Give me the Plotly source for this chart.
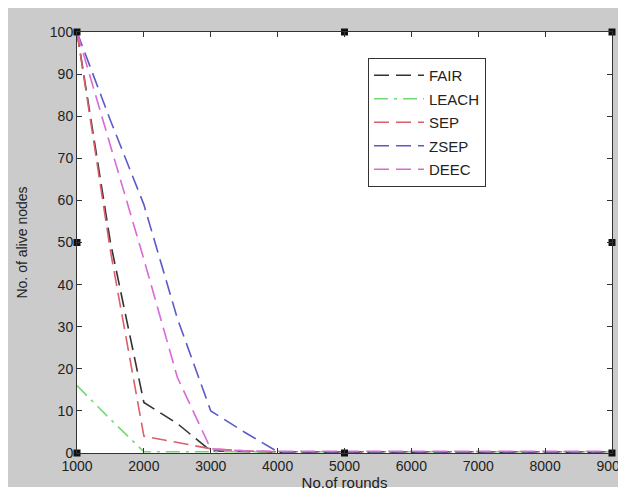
import plotly.graph_objects as go

ROUNDS = [1000, 1500, 2000, 2500, 3000, 3500, 4000, 5000, 6000, 7000, 8000, 9000]
FAIR = [100, 50, 12, 7, 0.5, 0.3, 0.2, 0.2, 0.2, 0.2, 0.2, 0.2]
LEACH = [16, 8, 0.3, 0.3, 0.3, 0.3, 0.3, 0.3, 0.3, 0.3, 0.3, 0.3]
SEP = [100, 48, 4, 2.5, 1, 0.5, 0.3, 0.3, 0.3, 0.3, 0.3, 0.3]
ZSEP = [100, 79, 59, 32, 10, 5, 0.3, 0.3, 0.3, 0.3, 0.3, 0.3]
DEEC = [100, 73, 46, 18, 1, 0.5, 0.4, 0.4, 0.4, 0.4, 0.4, 0.4]

SERIES_NAMES = ["FAIR", "LEACH", "SEP", "ZSEP", "DEEC"]
SERIES_VALUES = [FAIR, LEACH, SEP, ZSEP, DEEC]
SERIES_COLORS = ["#333333", "#74d874", "#d95f6a", "#5a5ac8", "#d86ad8"]
SERIES_DASH = ["15px,7px", "14px,6px,3px,6px", "15px,7px", "15px,7px", "15px,7px"]

HANDLE_X = [1000, 1000, 1000, 5000, 5000, 9000, 9000, 9000]
HANDLE_Y = [0, 50, 100, 0, 100, 0, 50, 100]

X_TICKS = [1000, 2000, 3000, 4000, 5000, 6000, 7000, 8000, 9000]
Y_TICKS = [0, 10, 20, 30, 40, 50, 60, 70, 80, 90, 100]

FONT = "Liberation Sans, Arial, sans-serif"

fig = go.Figure()
for name, vals, col, dash in zip(SERIES_NAMES, SERIES_VALUES, SERIES_COLORS, SERIES_DASH):
    fig.add_trace(go.Scatter(
        x=ROUNDS, y=vals, mode="lines", name=name,
        line=dict(color=col, width=1.6, dash=dash),
        legendgroup=name,
    ))

fig.add_trace(go.Scatter(
    x=HANDLE_X, y=HANDLE_Y, mode="markers", showlegend=False,
    marker=dict(symbol="square", size=7, color="#111111"),
    cliponaxis=False, hoverinfo="skip",
))

# page has an 8px body margin; figure sits at (8, 8)
W, H = 618, 489
L, R, T, B = 69, 14, 24, 44
pw, ph = W - L - R, H - T - B


def px2x(px):
    return (px - L) / pw


def px2y(py):
    return (H - B - py) / ph


shapes = [
    dict(type="rect", xref="paper", yref="paper", x0=px2x(0), x1=px2x(W), y0=px2y(H + 5), y1=px2y(479),
         fillcolor="white", line=dict(width=0), layer="below"),
]

axis_common = dict(
    showgrid=False, zeroline=False, showline=True, linecolor="#333333", linewidth=1,
    mirror="ticks", ticks="inside", ticklen=5, tickcolor="#333333",
    tickfont=dict(family=FONT, size=14, color="#222222"),
    automargin=False, ticklabeloverflow="allow",
)

fig.update_layout(
    width=W, height=H,
    margin=dict(l=L, r=R, t=T, b=B, autoexpand=False),
    paper_bgcolor="#cbcbcb",
    plot_bgcolor="white",
    shapes=shapes,
    showlegend=True,
    legend=dict(
        x=px2x(360), y=px2y(50), xanchor="left", yanchor="top",
        bgcolor="white", bordercolor="#333333", borderwidth=1,
        font=dict(family=FONT, size=15, color="#222222"),
        tracegroupgap=1, traceorder="grouped", itemwidth=50,
    ),
    xaxis=dict(range=[1000, 9000], tickvals=X_TICKS, ticktext=[str(v) for v in X_TICKS],
               title=dict(text="No.of rounds", standoff=4,
                          font=dict(family=FONT, size=15, color="#222222")),
               **axis_common),
    yaxis=dict(range=[0, 100], tickvals=Y_TICKS, ticktext=[str(v) for v in Y_TICKS],
               title=dict(text="No. of alive nodes", standoff=18,
                          font=dict(family=FONT, size=14, color="#222222")),
               **axis_common),
)

fig.write_html("out.html")
